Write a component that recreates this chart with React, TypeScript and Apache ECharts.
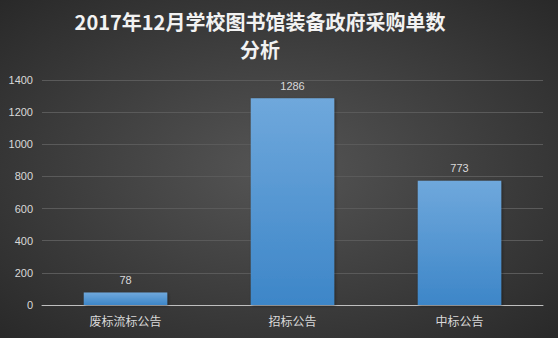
import React, { useEffect, useRef } from "react";
import * as echarts from "echarts";

const titleLines = ["2017年12月学校图书馆装备政府采购单数", "分析"];
const categories = ["废标流标公告", "招标公告", "中标公告"];
const values = [78, 1286, 773];
const yMin = 0;
const yMax = 1400;
const yInterval = 200;

export default function App() {
  const ref = useRef<HTMLDivElement>(null);
  useEffect(() => {
    if (!ref.current) return;
    const chart = echarts.init(ref.current, null, { renderer: "svg" });
    const titleStyle = {
      fill: "#f2f2f2",
      fontSize: 20,
      fontWeight: "bold",
      fontFamily: "'Noto Sans CJK SC', sans-serif",
      textAlign: "center",
      textVerticalAlign: "middle",
      shadowColor: "rgba(0,0,0,0.8)",
      shadowBlur: 3,
      shadowOffsetX: 1,
      shadowOffsetY: 1,
    };
    chart.setOption({
      animation: false,
      backgroundColor: {
        type: "radial",
        x: 0.5,
        y: 0.5,
        r: 0.75,
        colorStops: [
          { offset: 0, color: "#555555" },
          { offset: 1, color: "#262626" },
        ],
      },
      graphic: titleLines.map((t, i) => ({
        type: "text",
        x: 260,
        y: 21 + i * 28,
        style: { ...titleStyle, text: t },
      })),
      grid: { left: 42, right: 15, top: 80, bottom: 33, containLabel: false },
      xAxis: {
        type: "category",
        data: categories,
        axisLine: { lineStyle: { color: "#bfbfbf", width: 1 } },
        axisTick: { show: false },
        axisLabel: {
          color: "#d9d9d9",
          fontSize: 12,
          margin: 9,
          fontFamily: "'Noto Sans CJK SC', sans-serif",
        },
      },
      yAxis: {
        type: "value",
        min: yMin,
        max: yMax,
        interval: yInterval,
        axisLine: { show: false },
        axisTick: { show: false },
        splitLine: { lineStyle: { color: "#5a5a5a", width: 1 } },
        axisLabel: {
          color: "#d9d9d9",
          fontSize: 11,
          margin: 9,
          formatter: (v: number) => String(v),
          fontFamily: "'Liberation Sans', sans-serif",
        },
      },
      series: [
        {
          type: "bar",
          data: values,
          barWidth: "50%",
          itemStyle: {
            color: {
              type: "linear",
              x: 0,
              y: 0,
              x2: 0,
              y2: 1,
              colorStops: [
                { offset: 0, color: "#6fa8dc" },
                { offset: 1, color: "#3d86c8" },
              ],
            },
            shadowColor: "rgba(0,0,0,0.4)",
            shadowBlur: 3,
            shadowOffsetX: 1,
            shadowOffsetY: 1,
          },
          label: {
            show: true,
            position: "top",
            distance: 7,
            color: "#d9d9d9",
            fontSize: 11,
            fontFamily: "'Liberation Sans', sans-serif",
          },
        },
      ],
    });
    return () => chart.dispose();
  }, []);
  return <div ref={ref} style={{ width: 558, height: 338, position: "absolute", left: 0, top: 0 }} />;
}
